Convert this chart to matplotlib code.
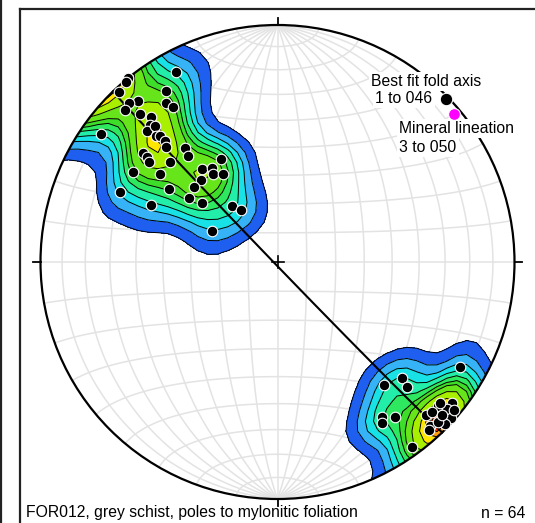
import numpy as np
import matplotlib.pyplot as plt
from matplotlib.patches import Circle
from matplotlib.lines import Line2D
from matplotlib.colors import ListedColormap, BoundaryNorm

# poles to mylonitic foliation, trend / plunge in degrees (NW group, then SE group)
pole_trend = [332, 321, 320, 317, 327, 319, 317, 325, 326, 315, 317, 319, 306, 317, 315,
              318, 316, 317, 317, 316, 321, 320, 309, 309, 308, 313, 331, 321, 325, 324,
              328, 302, 307, 317, 312, 304, 294, 306, 308, 294, 321, 325, 295,
              133, 134, 139, 146, 147, 143, 144, 120, 132, 129, 131, 132, 136, 134, 137,
              134, 131, 130, 135, 133, 138]
pole_plunge = [10, 0, 1, 2, 15, 11, 9, 19, 22, 10, 16, 20, 9, 22, 23,
               24, 27, 28, 31, 33, 38, 41, 28, 30, 32, 38, 49, 48, 50, 52,
               54, 29, 38, 51, 51, 44, 28, 52, 57, 41, 65, 68, 65,
               29, 25, 32, 22, 20, 19, 4, 12, 10, 6, 6, 2, 11, 10, 6,
               2, 10, 3, 5, 6, 5]

fold_axis = (46, 1)      # best fit fold axis
lineation = (50, 3)      # mineral lineation

fill_colors = ['#1e5ff0', '#36b2f6', '#18e2e6', '#22eeaa', '#2ee860', '#3ddd2a',
               '#66e61a', '#a8f000', '#ffe600', '#ff9c00', '#ff3a00']
level_frac = [0.045, 0.10, 0.16, 0.22, 0.29, 0.36, 0.43, 0.56, 0.72, 0.83, 0.92]


def to_xyz(trend, plunge):
    t = np.radians(trend)
    p = np.radians(plunge)
    return np.cos(p) * np.sin(t), np.cos(p) * np.cos(t), -np.sin(p)


def project(e, n, u):
    # lower hemisphere equal-area (Schmidt)
    s = np.sqrt(1 - u)
    return e / s, n / s


def project_tp(trend, plunge):
    return project(*to_xyz(np.asarray(trend, float), np.asarray(plunge, float)))


fig = plt.figure(figsize=(5.35, 5.23), dpi=100)
ax = fig.add_axes([0, 0, 1, 1])
R, cx, cy = 237.0, 277.5, 262.0
ax.set_xlim(-cx / R, (535 - cx) / R)
ax.set_ylim((cy - 523) / R, cy / R)
ax.set_aspect('auto')
ax.axis('off')

# net grid, 10 degree spacing
beta = np.linspace(0, np.pi, 181)
for a in np.radians(np.arange(10, 180, 10)):
    # great circles through N and S
    x, y = project(np.sin(beta) * np.cos(a), np.cos(beta), -np.sin(beta) * np.sin(a))
    ax.plot(x, y, color='#e3e3e3', lw=1.1, zorder=1)
    # small circles about the N-S axis
    x, y = project(np.sin(a) * np.cos(beta), np.cos(a) * np.ones_like(beta), -np.sin(a) * np.sin(beta))
    ax.plot(x, y, color='#e3e3e3', lw=1.1, zorder=1)

# density of poles (exponential kernel, axial data)
pe, pn, pu = to_xyz(np.array(pole_trend, float), np.array(pole_plunge, float))
gx, gy = np.meshgrid(np.linspace(-1.05, 1.05, 51), np.linspace(-1.05, 1.05, 51))
gu = np.clip(gx ** 2 + gy ** 2 - 1, -1, 1)
ge = gx * np.sqrt(1 - gu)
gn = gy * np.sqrt(1 - gu)
n_pts = len(pole_trend)
k = 80.0
dots = np.abs(ge[..., None] * pe + gn[..., None] * pn + gu[..., None] * pu)
dens = np.exp(k * (dots - 1)).sum(axis=-1)
inside = gx ** 2 + gy ** 2 <= 1.0
dmax = dens[inside].max()

levels = np.append(dmax * np.array(level_frac), dmax * 2)
cmap = ListedColormap(fill_colors)
norm = BoundaryNorm(levels, cmap.N)
clip = Circle((0, 0), 1, transform=ax.transData)
cf = ax.contourf(gx, gy, dens, levels=levels, cmap=cmap, norm=norm, zorder=2)
cl = ax.contour(gx, gy, dens, levels=levels[:-1], colors='black', linewidths=0.7, zorder=3)
cf.set_clip_path(clip)
cl.set_clip_path(clip)

# girdle: great circle normal to the fold axis
f = np.array(to_xyz(*fold_axis))
v1 = np.cross(f, [0, 0, 1.0]); v1 /= np.linalg.norm(v1)
v2 = np.cross(f, v1); v2 /= np.linalg.norm(v2)
tt = np.linspace(0, np.pi, 200)
g = np.outer(np.cos(tt), v1) + np.outer(np.sin(tt), v2)
g[g[:, 2] > 0] *= -1
gxx, gyy = project(g[:, 0], g[:, 1], g[:, 2])
ax.plot(gxx, gyy, color='black', lw=1.5, zorder=4)

# primitive circle, ticks and centre cross
ax.add_patch(Circle((0, 0), 1, fill=False, ec='black', lw=1.6, zorder=5))
t = 7 / R
ax.plot([0, 0], [1, 1 + t], color='black', lw=1.3, zorder=5)
ax.plot([0, 0], [-1, -1 - t], color='black', lw=1.3, zorder=5)
ax.plot([-1, -1 - t], [0, 0], color='black', lw=1.3, zorder=5)
ax.plot([1, 1 + t], [0, 0], color='black', lw=1.3, zorder=5)
c = 6 / R
ax.plot([-c, c], [0, 0], color='black', lw=1.2, zorder=5)
ax.plot([0, 0], [-c, c], color='black', lw=1.2, zorder=5)

# poles
px, py = project_tp(pole_trend, pole_plunge)
ax.plot(px, py, 'o', color='black', mec='white', mew=0.8, ms=7.6, zorder=6)

# fold axis and lineation with labels
font = ['Liberation Sans', 'DejaVu Sans']
fs = 11.3
bb = dict(facecolor='white', edgecolor='none', pad=1.5)
fx, fy = project_tp(*fold_axis)
lx, ly = project_tp(*lineation)
ax.annotate('Best fit fold axis', (fx, fy), xytext=(-75, 17), textcoords='offset pixels',
            ha='left', va='center', fontsize=fs, family=font, bbox=bb, zorder=7)
ax.annotate('1 to 046', (fx, fy), xytext=(-14, 0), textcoords='offset pixels',
            ha='right', va='center', fontsize=fs, family=font, bbox=bb, zorder=7)
ax.annotate('Mineral lineation', (lx, ly), xytext=(-55, -15), textcoords='offset pixels',
            ha='left', va='center', fontsize=fs, family=font, bbox=bb, zorder=7)
ax.annotate('3 to 050', (lx, ly), xytext=(-55, -34), textcoords='offset pixels',
            ha='left', va='center', fontsize=fs, family=font, bbox=bb, zorder=7)
ax.plot(fx, fy, 'o', color='black', mec='white', mew=0.8, ms=9, zorder=8)
ax.plot(lx, ly, 'o', color='#ff00ff', mec='white', mew=0.8, ms=8.5, zorder=8)

# caption
fig.text(25.6 / 535, 1 - 513 / 523, 'FOR012, grey schist, poles to mylonitic foliation',
         ha='left', va='center', fontsize=fs, family=font)
fig.text(525.6 / 535, 1 - 513 / 523, f'n = {n_pts}', ha='right', va='center',
         fontsize=fs, family=font)

# panel frame
fig.add_artist(Line2D([1.5 / 535, 1.5 / 535], [0, 1], color='#222222', lw=1.6))
fig.add_artist(Line2D([19.5 / 535, 19.5 / 535], [0, 1 - 8.5 / 523], color='#222222', lw=1.6))
fig.add_artist(Line2D([19.5 / 535, 1], [1 - 8.5 / 523, 1 - 8.5 / 523], color='#222222', lw=1.6))

fig.savefig('out.png', dpi=100)
